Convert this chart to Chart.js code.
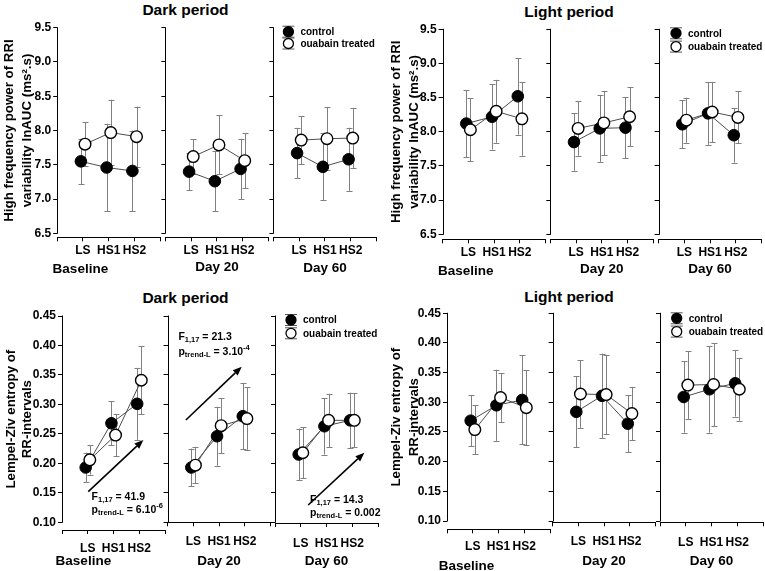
<!DOCTYPE html>
<html><head><meta charset="utf-8">
<script src="https://cdn.jsdelivr.net/npm/chart.js@4.4.1/dist/chart.umd.min.js"></script>
<style>
body{margin:0;width:765px;height:571px;background:#fff;position:relative;overflow:hidden;font-family:'Liberation Sans',Arial,sans-serif;}
canvas{position:absolute;}
.ptitle{position:absolute;font-weight:bold;font-size:15.5px;transform:translate(-50%,-50%);white-space:nowrap;color:#000;}
</style></head><body>
<div class="ptitle" style="left:185.5px;top:10px">Dark period</div>
<div class="ptitle" style="left:569px;top:11.7px">Light period</div>
<div class="ptitle" style="left:185.5px;top:298.3px">Dark period</div>
<div class="ptitle" style="left:569px;top:296.7px">Light period</div>
<script>
// ---------- DATA ----------
const categories = ['LS', 'HS1', 'HS2'];
const groups = ['Baseline', 'Day 20', 'Day 60'];
const seriesNames = ['control', 'ouabain treated'];
const hfTicks = [6.5, 7.0, 7.5, 8.0, 8.5, 9.0, 9.5];
const lzTicks = [0.10, 0.15, 0.20, 0.25, 0.30, 0.35, 0.40, 0.45];
const hfTitle = ['High frequency power of RRI', 'variability lnAUC (ms\u00b2.s)'];
const lzTitle = ['Lempel-Ziv entropy of', 'RR-intervals'];

// HF power, dark period  (rows: Baseline, Day 20, Day 60; cols: LS, HS1, HS2)
const hfDarkControlMean = [[7.55, 7.46, 7.41], [7.40, 7.26, 7.44], [7.67, 7.47, 7.58]];
const hfDarkControlSD   = [[0.33, 0.64, 0.59], [0.27, 0.44, 0.44], [0.37, 0.49, 0.46]];
const hfDarkOuabainMean = [[7.80, 7.97, 7.91], [7.62, 7.79, 7.56], [7.86, 7.88, 7.89]];
const hfDarkOuabainSD   = [[0.32, 0.48, 0.44], [0.25, 0.43, 0.40], [0.35, 0.46, 0.44]];

// HF power, light period
const hfLightControlMean = [[8.12, 8.22, 8.52], [7.85, 8.05, 8.06], [8.11, 8.27, 7.95]];
const hfLightControlSD   = [[0.49, 0.48, 0.56], [0.42, 0.49, 0.45], [0.35, 0.46, 0.40]];
const hfLightOuabainMean = [[8.03, 8.30, 8.19], [8.05, 8.13, 8.22], [8.17, 8.29, 8.21]];
const hfLightOuabainSD   = [[0.46, 0.46, 0.54], [0.40, 0.47, 0.43], [0.33, 0.44, 0.38]];

// Lempel-Ziv entropy, dark period
const lzDarkControlMean = [[0.193, 0.268, 0.301], [0.193, 0.246, 0.280], [0.215, 0.263, 0.273]];
const lzDarkControlSD   = [[0.025, 0.037, 0.061], [0.032, 0.050, 0.056], [0.044, 0.048, 0.047]];
const lzDarkOuabainMean = [[0.206, 0.248, 0.341], [0.197, 0.264, 0.276], [0.218, 0.273, 0.273]];
const lzDarkOuabainSD   = [[0.025, 0.036, 0.058], [0.031, 0.047, 0.053], [0.043, 0.045, 0.046]];

// Lempel-Ziv entropy, light period
const lzLightControlMean = [[0.269, 0.295, 0.304], [0.284, 0.311, 0.264], [0.309, 0.322, 0.332]];
const lzLightControlSD   = [[0.043, 0.060, 0.075], [0.060, 0.071, 0.048], [0.060, 0.073, 0.056]];
const lzLightOuabainMean = [[0.254, 0.308, 0.291], [0.314, 0.313, 0.281], [0.329, 0.330, 0.322]];
const lzLightOuabainSD   = [[0.041, 0.041, 0.063], [0.057, 0.067, 0.045], [0.057, 0.070, 0.053]];

// trend statistics (dark period, Lempel-Ziv)
const lzDarkTrendF = ['41.9', '21.3', '14.3'];
const lzDarkTrendP = [['6.10', '-6'], ['3.10', '-4'], ['0.002', '']];

// ---------- LAYOUT ----------
const FONT = "'Liberation Sans', Arial, sans-serif";
const ctrlOff = -0.08, ouaOff = 0.08;

const panels = [
  { ticks: hfTicks, digits: 1, yTop: 27.7, yBot: 233.3, axes: [57.2, 165.4, 273.4],
    xAxisY: [237.3, 237.3, 237.3], tickPad: [2, 2, 2], groupDy: [32, 29.5, 30.7], groupCx: [0.9, 2, 2],
    titleLeft: 0, yTitle: hfTitle, yTitleX: [9, 27.5], legend: { dx: 15, dy: 4, gap: 11.8 },
    cm: hfDarkControlMean, cs: hfDarkControlSD, om: hfDarkOuabainMean, os: hfDarkOuabainSD },
  { ticks: hfTicks, digits: 1, yTop: 29.3, yBot: 234.3, axes: [442.6, 550.3, 658.6],
    xAxisY: [239.3, 239.3, 239.3], tickPad: [2, 2, 2], groupDy: [32.4, 30, 30], groupCx: [0.9, 2, 2],
    titleLeft: 385, yTitle: hfTitle, yTitleX: [396, 414], legend: { dx: 17.4, dy: 4, gap: 13.3 },
    cm: hfLightControlMean, cs: hfLightControlSD, om: hfLightOuabainMean, os: hfLightOuabainSD },
  { ticks: lzTicks, digits: 2, yTop: 316, yBot: 522.3, axes: [62, 167.6, 275],
    xAxisY: [530, 522.3, 523], tickPad: [7, 8, 9], groupDy: [31, 38.7, 38], groupCx: [0.83, 2, 2],
    titleLeft: 0, yTitle: lzTitle, yTitleX: [11, 27.5], legend: { dx: 16, dy: 4, gap: 13.3 },
    cm: lzDarkControlMean, cs: lzDarkControlSD, om: lzDarkOuabainMean, os: lzDarkOuabainSD,
    notes: [
      { arrow: [1.02, 0.152, 3.16, 0.2396], tx: 1.15, fy: 0.1434, py: 0.1208 },
      { arrow: [0.71, 0.2736, 2.88, 0.364], tx: 0.42, fy: 0.4149, py: 0.3894 },
      { arrow: [1.29, 0.1293, 3.47, 0.218], tx: 1.36, fy: 0.1378, py: 0.1163 }
    ] },
  { ticks: lzTicks, digits: 2, yTop: 313.3, yBot: 521, axes: [447, 552.6, 660],
    xAxisY: [529.3, 522.3, 522.3], tickPad: [6, 8, 9], groupDy: [37.4, 38.7, 38.7], groupCx: [0.76, 2, 2],
    titleLeft: 385, yTitle: lzTitle, yTitleX: [396, 414], legend: { dx: 16.7, dy: 5, gap: 13.3 },
    cm: lzLightControlMean, cs: lzLightControlSD, om: lzLightOuabainMean, os: lzLightOuabainSD }
];

function drawRich(ctx, parts, x, y) {
  let cx = x;
  parts.forEach(pt => {
    const size = (pt.sub || pt.sup) ? 7.5 : 10.5;
    ctx.font = `bold ${size}px ${FONT}`;
    const dy = pt.sub ? 3 : (pt.sup ? -4 : 0);
    ctx.fillText(pt.t, cx, y + dy);
    cx += ctx.measureText(pt.t).width;
  });
}

const decorPlugin = {
  id: 'decor',
  beforeDatasetsDraw(chart) {
    const o = chart.options.plugins.decor;
    const ctx = chart.ctx, xs = chart.scales.x, ys = chart.scales.y;
    ctx.save();
    ctx.strokeStyle = '#808080';
    ctx.lineWidth = 1;
    o.bars.forEach(b => {
      b.mean.forEach((m, i) => {
        const px = Math.round(xs.getPixelForValue(i + 1 + b.off)) + 0.5;
        const y1 = ys.getPixelForValue(m + b.sd[i]);
        const y2 = ys.getPixelForValue(m - b.sd[i]);
        ctx.beginPath();
        ctx.moveTo(px, y1); ctx.lineTo(px, y2);
        ctx.moveTo(px - 3, Math.round(y1) + 0.5); ctx.lineTo(px + 3, Math.round(y1) + 0.5);
        ctx.moveTo(px - 3, Math.round(y2) + 0.5); ctx.lineTo(px + 3, Math.round(y2) + 0.5);
        ctx.stroke();
      });
    });
    ctx.restore();
  },
  afterDraw(chart) {
    const o = chart.options.plugins.decor;
    const ctx = chart.ctx, xs = chart.scales.x, ys = chart.scales.y, ca = chart.chartArea;
    ctx.save();
    // left axis line from first to last tick
    const lx = Math.round(ca.left) + 0.5;
    ctx.strokeStyle = '#000'; ctx.lineWidth = 1;
    ctx.beginPath();
    ctx.moveTo(lx, ys.getPixelForValue(o.yMax) - 0.5);
    ctx.lineTo(lx, ys.getPixelForValue(o.yMin) + 0.5);
    ctx.stroke();
    // group label
    ctx.fillStyle = '#000';
    ctx.font = `bold 13.5px ${FONT}`;
    ctx.textAlign = 'center'; ctx.textBaseline = 'middle';
    ctx.fillText(o.group, xs.getPixelForValue(o.groupCx), ca.bottom + o.groupDy);
    // y title
    if (o.yTitle) {
      const cy = (ys.getPixelForValue(o.yMax) + ys.getPixelForValue(o.yMin)) / 2;
      ctx.font = `bold 13.3px ${FONT}`;
      o.yTitle.forEach((line, k) => {
        ctx.save();
        ctx.translate(o.yTitleX[k], cy);
        ctx.rotate(-Math.PI / 2);
        ctx.fillText(line, 0, 0);
        ctx.restore();
      });
    }
    // legend
    if (o.legend) {
      const L = o.legend;
      const x0 = ca.left + L.dx;
      seriesNames.forEach((name, k) => {
        const y = ca.top + L.dy + k * L.gap;
        ctx.strokeStyle = '#555'; ctx.lineWidth = 1;
        ctx.beginPath();
        ctx.moveTo(x0 - 6, y - 5.5); ctx.lineTo(x0 + 6, y - 5.5);
        ctx.moveTo(x0 - 6, y + 5.5); ctx.lineTo(x0 + 6, y + 5.5);
        ctx.moveTo(x0, y - 5.5); ctx.lineTo(x0, y + 5.5);
        ctx.stroke();
        ctx.beginPath();
        ctx.arc(x0, y, 5, 0, Math.PI * 2);
        ctx.fillStyle = k === 0 ? '#000' : '#fff';
        ctx.fill();
        ctx.strokeStyle = '#000'; ctx.lineWidth = 1.3;
        ctx.stroke();
        ctx.fillStyle = '#000';
        ctx.font = `bold 10px ${FONT}`;
        ctx.textAlign = 'left'; ctx.textBaseline = 'middle';
        ctx.fillText(name, x0 + 12, y + 0.5);
      });
    }
    // trend annotations
    if (o.note) {
      const n = o.note;
      const x1 = xs.getPixelForValue(n.arrow[0]), y1 = ys.getPixelForValue(n.arrow[1]);
      const x2 = xs.getPixelForValue(n.arrow[2]), y2 = ys.getPixelForValue(n.arrow[3]);
      const ang = Math.atan2(y2 - y1, x2 - x1);
      const hl = 9, hw = 3.5;
      const bx = x2 - hl * Math.cos(ang), by = y2 - hl * Math.sin(ang);
      ctx.strokeStyle = '#000'; ctx.fillStyle = '#000'; ctx.lineWidth = 1.6;
      ctx.beginPath(); ctx.moveTo(x1, y1); ctx.lineTo(bx, by); ctx.stroke();
      ctx.beginPath();
      ctx.moveTo(x2, y2);
      ctx.lineTo(bx + hw * Math.sin(ang), by - hw * Math.cos(ang));
      ctx.lineTo(bx - hw * Math.sin(ang), by + hw * Math.cos(ang));
      ctx.closePath(); ctx.fill();
      ctx.textAlign = 'left'; ctx.textBaseline = 'middle';
      const tx = xs.getPixelForValue(n.tx);
      drawRich(ctx, [{ t: 'F' }, { t: '1,17', sub: true }, { t: ' = ' + n.f }], tx, ys.getPixelForValue(n.fy));
      const pp = [{ t: 'p' }, { t: 'trend-L', sub: true }, { t: ' = ' + n.p[0] }];
      if (n.p[1]) pp.push({ t: n.p[1], sup: true });
      drawRich(ctx, pp, tx, ys.getPixelForValue(n.py));
    }
    ctx.restore();
  }
};

function pts(means, off) { return means.map((m, i) => ({ x: i + 1 + off, y: m })); }

function makeChart(p, pi, g) {
  const ax = p.axes[g];
  const isBase = g === 0;
  const canvasLeft = isBase ? p.titleLeft : Math.round(ax - 12);
  const yAxisW = ax - canvasLeft;
  const plotW = 103;
  const canvasW = Math.ceil(yAxisW + plotW + 12);
  const padRight = canvasW - yAxisW - plotW;
  const xAxisY = p.xAxisY[g];
  const top = Math.round(p.yTop - 14);
  const padTop = p.yTop - top;
  const plotH = xAxisY - p.yTop;
  const canvasH = Math.ceil(padTop + plotH + 50);
  const xAxisH = canvasH - padTop - plotH;
  const yMin = p.ticks[0], yMax = p.ticks[p.ticks.length - 1];
  const yMinExt = yMin - (xAxisY - p.yBot) / (p.yBot - p.yTop) * (yMax - yMin);

  const cv = document.createElement('canvas');
  cv.width = canvasW; cv.height = canvasH;
  cv.style.left = canvasLeft + 'px'; cv.style.top = top + 'px';
  cv.style.width = canvasW + 'px'; cv.style.height = canvasH + 'px';
  document.body.appendChild(cv);

  const cm = p.cm[g], cs = p.cs[g], om = p.om[g], os = p.os[g];
  const note = p.notes ? Object.assign({ f: lzDarkTrendF[g], p: lzDarkTrendP[g] }, p.notes[g]) : null;

  new Chart(cv, {
    type: 'scatter',
    data: {
      datasets: [
        { label: 'control line', data: pts(cm, ctrlOff), showLine: true, pointRadius: 0, borderColor: '#4d4d4d', borderWidth: 1, order: 10 },
        { label: 'ouabain line', data: pts(om, ouaOff), showLine: true, pointRadius: 0, borderColor: '#4d4d4d', borderWidth: 1, order: 9 },
        { label: seriesNames[0], data: pts(cm, ctrlOff), pointRadius: 5.8, pointBackgroundColor: '#000', pointBorderColor: '#000', pointBorderWidth: 1, order: 2 },
        { label: seriesNames[1], data: pts(om, ouaOff), pointRadius: 5.8, pointBackgroundColor: '#fff', pointBorderColor: '#000', pointBorderWidth: 1.4, order: 1 }
      ]
    },
    options: {
      responsive: false, animation: false, events: [], devicePixelRatio: 1,
      layout: { padding: { top: padTop, right: padRight, left: 0, bottom: 0 } },
      scales: {
        x: {
          type: 'linear', min: 0, max: 4,
          afterBuildTicks: s => { s.ticks = [0, 1, 2, 3, 4].map(v => ({ value: v })); },
          afterFit: s => { s.height = xAxisH; },
          ticks: { callback: v => categories[v - 1] || '', color: '#000', padding: p.tickPad[g], maxRotation: 0, autoSkip: false,
                   font: { family: FONT, size: 12, weight: 'bold' } },
          grid: { display: true, drawOnChartArea: false, drawTicks: true, tickLength: 4, color: '#000', lineWidth: 1 },
          border: { display: true, color: '#000', width: 1 }
        },
        y: {
          type: 'linear', min: yMinExt, max: yMax,
          afterBuildTicks: s => { s.ticks = p.ticks.map(v => ({ value: v })); },
          afterFit: s => { s.width = yAxisW; },
          ticks: { callback: v => isBase ? Number(v).toFixed(p.digits) : '', color: '#000', padding: 2, autoSkip: false,
                   font: { family: FONT, size: 12, weight: 'bold' } },
          grid: { display: true, drawOnChartArea: false, drawTicks: true, tickLength: 4, color: '#000', lineWidth: 1 },
          border: { display: false }
        }
      },
      plugins: {
        legend: { display: false }, tooltip: { enabled: false },
        decor: {
          yMin, yMax, group: groups[g], groupCx: p.groupCx[g], groupDy: p.groupDy[g],
          yTitle: isBase ? p.yTitle : null, yTitleX: p.yTitleX.map(v => v - canvasLeft),
          legend: g === 2 ? p.legend : null, note,
          bars: [
            { mean: cm, sd: cs, off: ctrlOff },
            { mean: om, sd: os, off: ouaOff }
          ]
        }
      }
    },
    plugins: [decorPlugin]
  });
}

panels.forEach((p, pi) => { [0, 1, 2].forEach(g => makeChart(p, pi, g)); });
</script>
</body></html>
